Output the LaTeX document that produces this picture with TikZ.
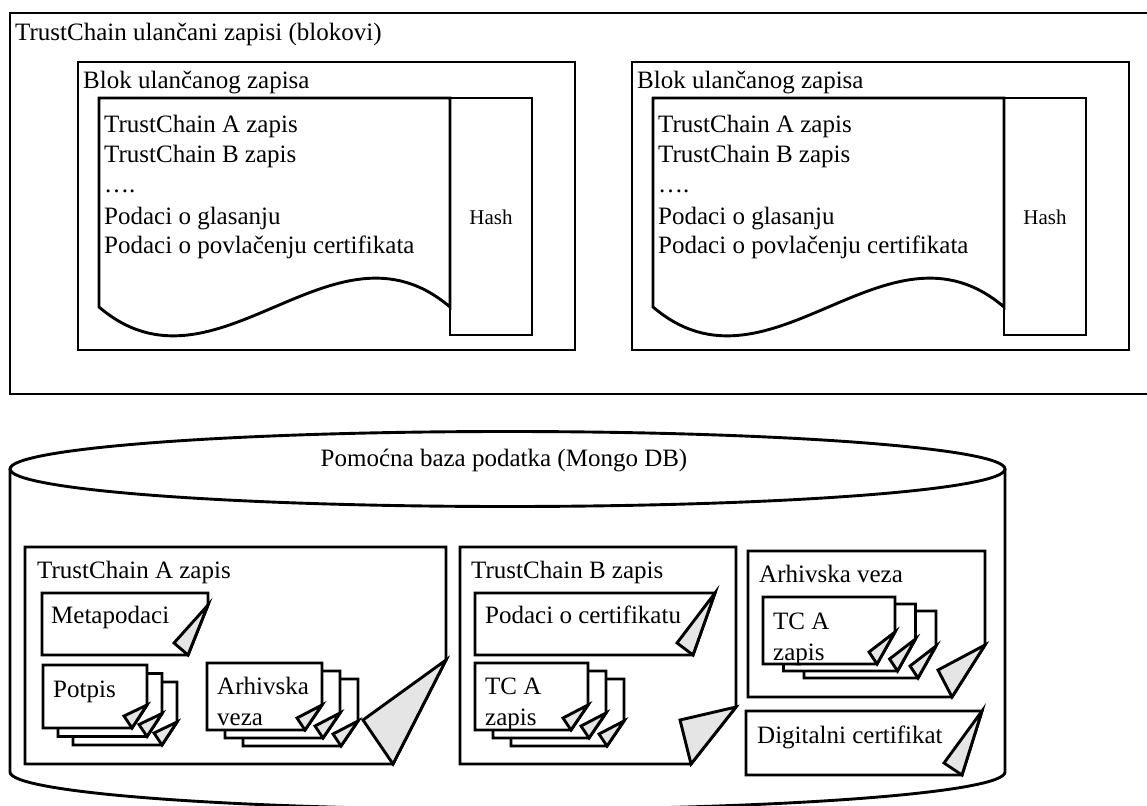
\documentclass[tikz,border=0pt]{standalone}
\usepackage{fontspec}
\setmainfont{Liberation Serif}
\tikzset{
  line/.style={line width=2.9pt, line join=miter},
  lbl/.style={anchor=base west, inner sep=0pt, font=\fontsize{25}{30}\selectfont},
  foldcol/.style={fill=black!10},
}
% folded note: L T R B h w dx dy
\newcommand\foldnote[8]{%
  \draw[line, fill=white] (#1,#2) -- (#3,#2) -- ({#3},{#4-#5}) -- ({#3-#6},#4) -- (#1,#4) -- cycle;
  \draw[line, foldcol] ({#3},{#4-#5}) -- ({#3-#6},#4) -- ({#3-#6-#7},{#4-#8}) -- cycle;
}
% card stack: L T R B ox oy h w
\newcommand\cardstack[8]{%
  \foldnote{#1+2*#5}{#2+2*#6}{#3+2*#5}{#4+2*#6}{#7}{#8}{8}{12}
  \foldnote{#1+#5}{#2+#6}{#3+#5}{#4+#6}{#7}{#8}{8}{12}
  \foldnote{#1}{#2}{#3}{#4}{#7}{#8}{8}{12}
}
% block: shift, name prefix
\newcommand\blok[2]{%
  \begin{scope}[shift={(#1,0)}]
    \draw[line] (78,62) rectangle (575,350);
    \node[lbl] (#2title) at (83,89) {Blok ulančanog zapisa};
    \draw[line] (99,98) -- (450,98) -- (450,307) .. controls (333,207) and (216,407) .. (99,307) -- cycle;
    \draw[line] (450,98) rectangle (532,335);
    \node[inner sep=0pt, font=\fontsize{21}{25}\selectfont] (#2hash) at (491,217) {Hash};
    \node[lbl] (#2la) at (104,133) {TrustChain A zapis};
    \node[lbl] (#2lb) at (104,163) {TrustChain B zapis};
    \node[lbl] (#2ld) at (104,193) {….};
    \node[lbl] (#2lg) at (104,224) {Podaci o glasanju};
    \node[lbl] (#2lp) at (104,253) {Podaci o povlačenju certifikata};
  \end{scope}
}
\begin{document}
\begin{tikzpicture}[x=1pt,y=-1pt]
\useasboundingbox (0,0) rectangle (1147,805);
\fill[white] (0,0) rectangle (1147,805);

% top container
\draw[line] (1152,13) -- (10,13) -- (10,394) -- (1152,394);
\node[lbl] (toptitle) at (15,41) {TrustChain ulančani zapisi (blokovi)};
\blok{0}{L}
\blok{554}{R}

% cylinder
\draw[line, fill=white] (10,469) -- (10,772) arc[start angle=180, end angle=0, x radius=497.5, y radius=37.5] -- (1005,469);
\draw[line] (507.5,469) ellipse [x radius=497.5, y radius=37.5];
\node[inner sep=0pt, anchor=base, font=\fontsize{25}{30}\selectfont] (db) at (504,466) {Pomoćna baza podatka (Mongo DB)};

% TrustChain A zapis
\foldnote{25}{547}{446}{764}{104}{53}{30}{44}
\node[lbl] (tca) at (37,578) {TrustChain A zapis};
\foldnote{42}{593}{208}{655}{50}{20}{14}{12}
\node[lbl] (meta) at (51,623) {Metapodaci};
\cardstack{43}{665}{147}{728}{15}{8.5}{23}{15}
\node[lbl] (potpis) at (53,697) {Potpis};
\cardstack{207}{663}{322}{730}{18}{8}{25}{17}
\node[lbl] (arh1) at (217,694) {Arhivska};
\node[lbl] (arh2) at (217,725) {veza};

% TrustChain B zapis
\foldnote{460}{547}{736}{764}{57}{45}{11}{44}
\node[lbl] (tcb) at (471,578) {TrustChain B zapis};
\foldnote{475}{593}{715}{655}{62}{22}{16}{12}
\node[lbl] (cert) at (485,623) {Podaci o certifikatu};
\cardstack{475}{663}{588}{730}{18}{8}{25}{17}
\node[lbl] (tcab1) at (485,694) {TC A};
\node[lbl] (tcab2) at (485,725) {zapis};

% Arhivska veza
\foldnote{748}{551}{985}{697}{52}{33}{14}{27}
\node[lbl] (arhv) at (759,582) {Arhivska veza};
\cardstack{763}{597}{895}{664}{20.5}{7}{32}{18}
\node[lbl] (tcar1) at (773,629) {TC A};
\node[lbl] (tcar2) at (773,660) {zapis};

% Digitalni certifikat
\foldnote{746}{711}{982}{775}{64}{20}{18}{12}
\node[lbl] (dig) at (757,743) {Digitalni certifikat};
\end{tikzpicture}
\end{document}
